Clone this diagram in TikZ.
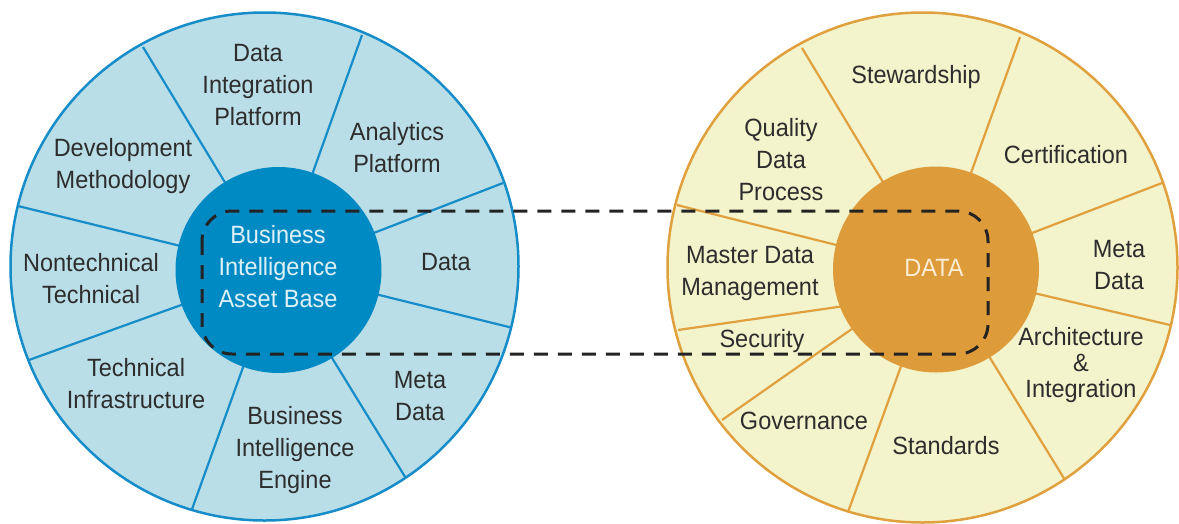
\documentclass[tikz,border=0pt]{standalone}
\usepackage{fontspec}
\setmainfont{Liberation Sans}[FakeStretch=0.94]
\definecolor{bluefill}{RGB}{186,222,232}
\definecolor{bluestroke}{RGB}{22,140,200}
\definecolor{bluecore}{RGB}{0,138,196}
\definecolor{bluecoretxt}{RGB}{222,240,248}
\definecolor{yelfill}{RGB}{243,243,204}
\definecolor{yelstroke}{RGB}{224,160,62}
\definecolor{yelcore}{RGB}{222,155,57}
\definecolor{yelcoretxt}{RGB}{252,238,214}
\definecolor{txt}{RGB}{45,45,45}
\definecolor{dashc}{RGB}{35,35,35}
\tikzset{
  lbl/.style={align=center, text=txt, font=\fontsize{25}{32}\selectfont, inner sep=0pt},
  corelbl/.style={align=center, font=\fontsize{25}{32}\selectfont, inner sep=0pt},
  bspoke/.style={draw=bluestroke, line width=2.2pt},
  yspoke/.style={draw=yelstroke, line width=2.2pt},
}
\begin{document}
\begin{tikzpicture}[x=1pt,y=-1pt]
\useasboundingbox (0,0) rectangle (1179,523);
% ---------- left wheel ----------
\fill[bluefill] (264.5,266.5) circle (254);
\begin{scope}
  \clip (264.5,266.5) circle (254);
  \draw[bspoke] (278,270) -- (143,47);
  \draw[bspoke] (278,270) -- (362,35);
  \draw[bspoke] (278,270) -- (503,183);
  \draw[bspoke] (278,270) -- (513,328);
  \draw[bspoke] (278,270) -- (407,480);
  \draw[bspoke] (278,270) -- (191,512);
  \draw[bspoke] (278,270) -- (29,360);
  \draw[bspoke] (278,270) -- (18,206);
\end{scope}
\draw[bluestroke, line width=2.5pt] (264.5,266.5) circle (254);
\fill[bluecore] (278.5,270) circle (103);
% ---------- right wheel ----------
\fill[yelfill] (922.5,267.5) circle (255);
\begin{scope}
  \clip (922.5,267.5) circle (255);
  \draw[yspoke] (936,270) -- (802,48);
  \draw[yspoke] (936,270) -- (1020,37);
  \draw[yspoke] (936,270) -- (1162,183);
  \draw[yspoke] (936,270) -- (1170,325);
  \draw[yspoke] (936,270) -- (1065,480);
  \draw[yspoke] (936,270) -- (848,512);
  \draw[yspoke] (936,270) -- (722,420);
  \draw[yspoke] (900,298) -- (678,330);
  \draw[yspoke] (936,270) -- (677,205);
\end{scope}
\draw[yelstroke, line width=2.5pt] (922.5,267.5) circle (255);
\fill[yelcore] (936,269.5) circle (103);
% ---------- left labels ----------
\node[lbl] (dip) at (258,85) {Data\\Integration\\Platform};
\node[lbl] (ap) at (397,148) {Analytics\\Platform};
\node[lbl] (dm) at (123,166) {Development\\Methodology};
\node[lbl] (nt) at (91,279) {Nontechnical\\Technical};
\node[lbl] (ti) at (136,384) {Technical\\Infrastructure};
\node[lbl] (bie) at (295,450) {Business\\Intelligence\\Engine};
\node[lbl] (lmd) at (420,396) {Meta\\Data};
\node[lbl] (ld) at (446,262) {Data};
\node[corelbl, text=bluecoretxt] (biab) at (278,267) {Business\\Intelligence\\Asset Base};
% ---------- right labels ----------
\node[lbl] (stw) at (916,77) {Stewardship};
\node[lbl] (qdp) at (781,160) {Quality\\Data\\Process};
\node[lbl] (cert) at (1066,155) {Certification};
\node[lbl] (rmd) at (1119,265) {Meta\\Data};
\node[lbl, font=\fontsize{25}{26}\selectfont] (arch) at (1081,365) {Architecture\\\&\\Integration};
\node[lbl] (std) at (946,446) {Standards};
\node[lbl] (gov) at (804,421) {Governance};
\node[lbl] (sec) at (762,341) {Security};
\node[lbl] (mdm) at (750,273) {Master Data\\Management};
\node[corelbl, text=yelcoretxt] (data) at (934,268) {DATA};
% ---------- dashed link ----------
\draw[dashc, line width=3pt, dash pattern=on 14pt off 10pt, rounded corners=30pt]
  (202,211) rectangle (988,354);
\end{tikzpicture}
\end{document}
